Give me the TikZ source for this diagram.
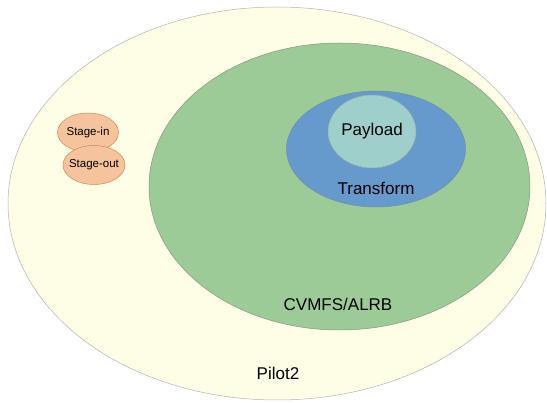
\documentclass[tikz,border=0pt]{standalone}
\usepackage{fontspec}
\setmainfont{Liberation Sans}
\usetikzlibrary{calc,shapes}

\definecolor{pilotfill}{HTML}{FEFDE5}
\definecolor{cvmfsfill}{HTML}{9CCB98}
\definecolor{trffill}{HTML}{6699CC}
\definecolor{payfill}{HTML}{9ECFCB}
\definecolor{stagefill}{HTML}{F6C49C}
\definecolor{stageline}{HTML}{C88A5A}

\tikzset{
  blob/.style={ellipse,inner sep=0pt,line width=0.5pt},
  biglbl/.style={font=\fontsize{17}{20}\selectfont},
  smalllbl/.style={font=\fontsize{11.5}{14}\selectfont}
}

\begin{document}
\begin{tikzpicture}[x=1pt,y=-1pt]
    \useasboundingbox (0,0) rectangle (547,403);

    % outer level
    \node[blob,draw=gray!60,fill=pilotfill,minimum width=538pt,minimum height=393pt]
      (pilot) at (277,203.5) {};
    \node[biglbl] (pilotlbl) at (278,373) {Pilot2};

    % stage-in / stage-out
    \node[blob,draw=stageline,fill=stagefill,minimum width=61pt,minimum height=39pt]
      (stagein) at (88,132.5) {};
    \node[smalllbl] (stageinlbl) at (stagein) {Stage-in};
    \node[blob,draw=stageline,fill=stagefill,minimum width=62pt,minimum height=39pt]
      (stageout) at (94,165) {};
    \node[smalllbl] (stageoutlbl) at (stageout) {Stage-out};

    % second level
    \node[blob,draw=gray!70!cvmfsfill,fill=cvmfsfill,minimum width=381pt,minimum height=287pt]
      (cvmfs) at (339.5,186.5) {};
    \node[biglbl] (cvmfslbl) at (338,304) {CVMFS/ALRB};

    % third level
    \node[blob,draw=gray!50!trffill,fill=trffill,minimum width=179pt,minimum height=116pt]
      (trf) at (376,149) {};
    \node[biglbl] (trflbl) at (376,188) {Transform};

    % payload
    \node[blob,draw=gray!40!payfill,fill=payfill,minimum width=88pt,minimum height=73pt]
      (payload) at (372,131.5) {};
    \node[biglbl] (paylbl) at (payload) {Payload};
\end{tikzpicture}
\end{document}
